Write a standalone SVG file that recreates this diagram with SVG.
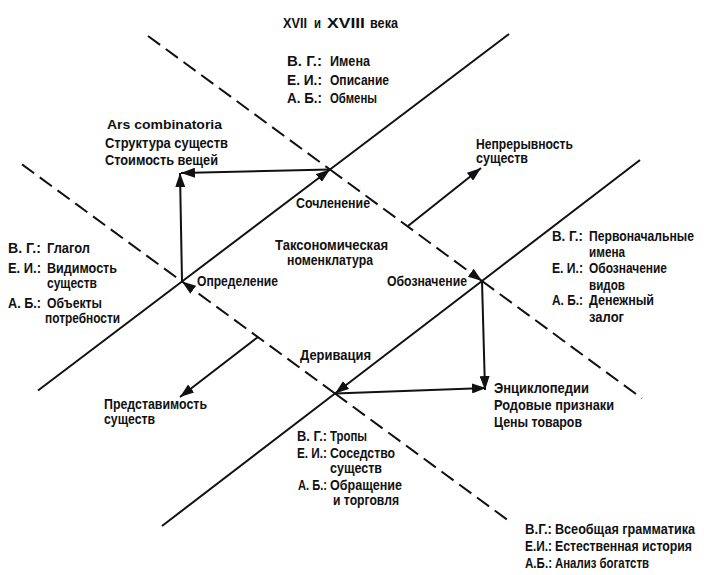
<svg xmlns="http://www.w3.org/2000/svg" width="704" height="575" viewBox="0 0 704 575">
<style>
.t{font-family:"Liberation Sans Narrow","Liberation Sans",Arial,sans-serif;font-weight:bold;font-size:14px;fill:#111}
.a{font-family:"Liberation Sans","DejaVu Sans",sans-serif;font-weight:bold;font-size:13px;fill:#111}
.ln{fill:none;stroke:#111;stroke-width:2}
.ds{fill:none;stroke:#111;stroke-width:2;stroke-dasharray:15 7}
.ar{marker-end:url(#ah)}
</style>
<defs>
<marker id="ah" markerUnits="userSpaceOnUse" markerWidth="14" markerHeight="10" refX="14" refY="5" orient="auto">
<path d="M0,0 L14,5 L0,10 z" fill="#111"/>
</marker>
</defs>
<rect width="704" height="575" fill="#fff"/>

<g id="connectors">
<path class="ln" d="M38,390.5 L182,281.5"/>
<path class="ln ar" d="M182,281.5 L330,169.5"/>
<path class="ln" d="M330,169.5 L509,34"/>
<path class="ln" d="M162,526 L335,393.5"/>
<path class="ln ar" d="M482,281 L335,393.5"/>
<path class="ln" d="M482,281 L640,160"/>
<path class="ds" d="M148,36 L330,169.5"/>
<path class="ds ar" d="M330,169.5 L482,281"/>
<path class="ds" d="M482,281 L642,398.4"/>
<path class="ds" d="M22,164.4 L182,281.5"/>
<path class="ds ar" d="M335,393.5 L182,281.5"/>
<path class="ds" d="M335,393.5 L509,521"/>
<path class="ln ar" d="M182,281.5 L180,173"/>
<path class="ln ar" d="M330,169.5 L181,173"/>
<path class="ln ar" d="M482,281 L485,390"/>
<path class="ln ar" d="M335,393.5 L486,388"/>
<path class="ln ar" d="M408,226 L481,168"/>
<path class="ln ar" d="M258,337 L180,397"/>
</g>

<g id="title">
<text class="t" x="283" y="28" font-size="21" textLength="24" lengthAdjust="spacingAndGlyphs">XVII</text>
<text class="t" x="314" y="28" font-size="15" textLength="7" lengthAdjust="spacingAndGlyphs">и</text>
<text class="t" x="327" y="28" font-size="21" textLength="38" lengthAdjust="spacingAndGlyphs">XVIII</text>
<text class="t" x="370" y="28" font-size="15" textLength="28" lengthAdjust="spacingAndGlyphs">века</text>
</g>

<g id="top-block">
<text class="t" x="287" y="66" textLength="35" lengthAdjust="spacingAndGlyphs">В. Г.:</text>
<text class="t" x="330" y="66" textLength="40" lengthAdjust="spacingAndGlyphs">Имена</text>
<text class="t" x="287" y="85" textLength="35" lengthAdjust="spacingAndGlyphs">Е. И.:</text>
<text class="t" x="330" y="85" textLength="59" lengthAdjust="spacingAndGlyphs">Описание</text>
<text class="t" x="287" y="103" textLength="35" lengthAdjust="spacingAndGlyphs">А. Б.:</text>
<text class="t" x="330" y="103" textLength="47" lengthAdjust="spacingAndGlyphs">Обмены</text>
</g>

<g id="ars-combinatoria">
<text class="a" x="107" y="129" textLength="115" lengthAdjust="spacingAndGlyphs">Ars combinatoria</text>
<text class="t" x="105" y="148" textLength="123" lengthAdjust="spacingAndGlyphs">Структура существ</text>
<text class="t" x="105" y="165" textLength="113" lengthAdjust="spacingAndGlyphs">Стоимость вещей</text>
</g>

<g id="continuity">
<text class="t" x="476" y="149" textLength="97" lengthAdjust="spacingAndGlyphs">Непрерывность</text>
<text class="t" x="476" y="163" textLength="52" lengthAdjust="spacingAndGlyphs">существ</text>
</g>

<g id="articulation">
<text class="t" x="296" y="208" textLength="74" lengthAdjust="spacingAndGlyphs">Сочленение</text>
</g>

<g id="taxonomy">
<text class="t" x="275" y="250" textLength="113" lengthAdjust="spacingAndGlyphs">Таксономическая</text>
<text class="t" x="287" y="265" textLength="86" lengthAdjust="spacingAndGlyphs">номенклатура</text>
</g>

<g id="attribution">
<text class="t" x="197" y="286" textLength="81" lengthAdjust="spacingAndGlyphs">Определение</text>
</g>

<g id="designation">
<text class="t" x="387" y="286" textLength="80" lengthAdjust="spacingAndGlyphs">Обозначение</text>
</g>

<g id="derivation">
<text class="t" x="300" y="360" textLength="71" lengthAdjust="spacingAndGlyphs">Деривация</text>
</g>

<g id="left-block">
<text class="t" x="8" y="253" textLength="33" lengthAdjust="spacingAndGlyphs">В. Г.:</text>
<text class="t" x="47" y="253" textLength="43" lengthAdjust="spacingAndGlyphs">Глагол</text>
<text class="t" x="8" y="273" textLength="33" lengthAdjust="spacingAndGlyphs">Е. И.:</text>
<text class="t" x="47" y="273" textLength="70" lengthAdjust="spacingAndGlyphs">Видимость</text>
<text class="t" x="47" y="288" textLength="50" lengthAdjust="spacingAndGlyphs">существ</text>
<text class="t" x="8" y="308" textLength="33" lengthAdjust="spacingAndGlyphs">А. Б.:</text>
<text class="t" x="47" y="308" textLength="55" lengthAdjust="spacingAndGlyphs">Объекты</text>
<text class="t" x="45" y="323" textLength="75" lengthAdjust="spacingAndGlyphs">потребности</text>
</g>

<g id="right-block">
<text class="t" x="552" y="241" textLength="31" lengthAdjust="spacingAndGlyphs">В. Г.:</text>
<text class="t" x="589" y="241" textLength="105" lengthAdjust="spacingAndGlyphs">Первоначальные</text>
<text class="t" x="589" y="257" textLength="36" lengthAdjust="spacingAndGlyphs">имена</text>
<text class="t" x="552" y="273" textLength="31" lengthAdjust="spacingAndGlyphs">Е. И.:</text>
<text class="t" x="589" y="273" textLength="78" lengthAdjust="spacingAndGlyphs">Обозначение</text>
<text class="t" x="589" y="290" textLength="36" lengthAdjust="spacingAndGlyphs">видов</text>
<text class="t" x="552" y="305" textLength="31" lengthAdjust="spacingAndGlyphs">А. Б.:</text>
<text class="t" x="589" y="305" textLength="65" lengthAdjust="spacingAndGlyphs">Денежный</text>
<text class="t" x="589" y="322" textLength="35" lengthAdjust="spacingAndGlyphs">залог</text>
</g>

<g id="representability">
<text class="t" x="104" y="409" textLength="103" lengthAdjust="spacingAndGlyphs">Представимость</text>
<text class="t" x="104" y="424" textLength="51" lengthAdjust="spacingAndGlyphs">существ</text>
</g>

<g id="encyclopedia">
<text class="t" x="494" y="393" textLength="95" lengthAdjust="spacingAndGlyphs">Энциклопедии</text>
<text class="t" x="494" y="410" textLength="120" lengthAdjust="spacingAndGlyphs">Родовые признаки</text>
<text class="t" x="494" y="427" textLength="88" lengthAdjust="spacingAndGlyphs">Цены товаров</text>
</g>

<g id="bottom-block">
<text class="t" x="297" y="441" textLength="30" lengthAdjust="spacingAndGlyphs">В. Г.:</text>
<text class="t" x="330" y="441" textLength="37" lengthAdjust="spacingAndGlyphs">Тропы</text>
<text class="t" x="297" y="458" textLength="30" lengthAdjust="spacingAndGlyphs">Е. И.:</text>
<text class="t" x="330" y="458" textLength="65" lengthAdjust="spacingAndGlyphs">Соседство</text>
<text class="t" x="330" y="473" textLength="52" lengthAdjust="spacingAndGlyphs">существ</text>
<text class="t" x="298" y="490" textLength="29" lengthAdjust="spacingAndGlyphs">А. Б.:</text>
<text class="t" x="330" y="490" textLength="72" lengthAdjust="spacingAndGlyphs">Обращение</text>
<text class="t" x="333" y="505" textLength="66" lengthAdjust="spacingAndGlyphs">и торговля</text>
</g>

<g id="legend">
<text class="t" x="525" y="534" textLength="27" lengthAdjust="spacingAndGlyphs">В.Г.:</text>
<text class="t" x="555" y="534" textLength="140" lengthAdjust="spacingAndGlyphs">Всеобщая грамматика</text>
<text class="t" x="525" y="551" textLength="27" lengthAdjust="spacingAndGlyphs">Е.И.:</text>
<text class="t" x="555" y="551" textLength="137" lengthAdjust="spacingAndGlyphs">Естественная история</text>
<text class="t" x="525" y="568" textLength="27" lengthAdjust="spacingAndGlyphs">А.Б.:</text>
<text class="t" x="555" y="568" textLength="94" lengthAdjust="spacingAndGlyphs">Анализ богатств</text>
</g>
</svg>
